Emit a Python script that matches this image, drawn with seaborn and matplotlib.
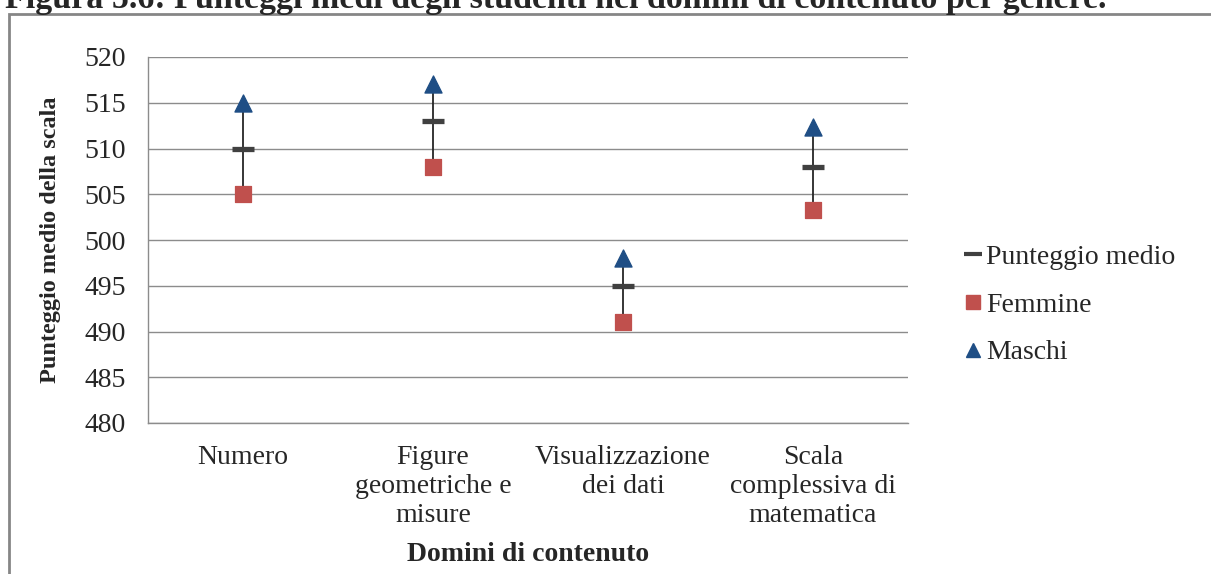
import matplotlib
matplotlib.use("Agg")
import matplotlib.pyplot as plt
from matplotlib.lines import Line2D
from matplotlib.patches import Rectangle
import seaborn as sns
import pandas as pd

# data
domini = ["Numero", "Figure\ngeometriche e\nmisure", "Visualizzazione\ndei dati",
          "Scala\ncomplessiva di\nmatematica"]
medio = [510, 513, 495, 508]
femmine = [505, 508, 491, 503.3]
maschi = [515, 517, 498, 512.3]
y_ticks = [480, 485, 490, 495, 500, 505, 510, 515, 520]

df = pd.DataFrame({"dominio": domini, "medio": medio, "femmine": femmine, "maschi": maschi})

sns.set_style("white")
plt.rcParams["font.family"] = ["Liberation Serif", "DejaVu Serif"]

fig = plt.figure(figsize=(12.11, 5.74), dpi=100)
ax = fig.add_axes([148/1211, 1-423/574, 760/1211, 366/574])

# border of the chart area (cut off right and bottom)
fig.patches.append(Rectangle((9/1211, -0.1), 1.2, 1-14/574+0.1, transform=fig.transFigure,
                             fill=False, edgecolor="#868686", linewidth=2))

# high-low lines
ax.vlines(df["dominio"], df["femmine"], df["maschi"], color="#262626", linewidth=1.3, zorder=2)

sns.scatterplot(data=df, x="dominio", y="medio", marker="_", s=250, linewidth=3.8,
                color="#404040", ax=ax, zorder=3)
sns.scatterplot(data=df, x="dominio", y="femmine", marker="s", s=125, color="#C0504D",
                edgecolor="#C0504D", ax=ax, zorder=3)
sns.scatterplot(data=df, x="dominio", y="maschi", marker="^", s=150, color="#1F4E85",
                edgecolor="#1F4E85", ax=ax, zorder=3)

ax.set_xlim(-0.5, 3.5)
ax.set_ylim(480, 520)
ax.set_yticks(y_ticks)
ax.yaxis.grid(True, color="#8c8c8c", linewidth=1)
ax.set_axisbelow(True)
for s in ["top", "right"]:
    ax.spines[s].set_visible(False)
for s in ["left", "bottom"]:
    ax.spines[s].set_color("#8c8c8c")
    ax.spines[s].set_linewidth(1)

ax.set_xticks([0, 1, 2, 3])
ax.set_xticklabels(domini, fontsize=20, linespacing=1.2)
ax.set_xticks([-0.5, 0.5, 1.5, 2.5, 3.5], minor=True)
ax.tick_params(axis="x", which="major", length=0, pad=16)
ax.tick_params(axis="x", which="minor", length=6, color="#8c8c8c", direction="out")
ax.tick_params(axis="y", length=6, color="#8c8c8c", direction="out", labelsize=20, pad=10)

ax.set_xlabel("Domini di contenuto", fontsize=20, fontweight="bold", labelpad=10)
ax.set_ylabel("Punteggio medio della scala", fontsize=17.5, fontweight="bold", labelpad=17)

handles = [
    Line2D([], [], color="#404040", marker="_", markersize=12.5, markeredgewidth=3, linestyle="none"),
    Line2D([], [], color="#C0504D", marker="s", markersize=10.5, linestyle="none"),
    Line2D([], [], color="#1F4E85", marker="^", markersize=10, linestyle="none"),
]
fig.legend(handles, ["Punteggio medio", "Femmine", "Maschi"], loc="center left",
           bbox_to_anchor=(965/1211, 1-305/574), frameon=False, fontsize=20,
           handlelength=0.6, handletextpad=0.15, labelspacing=0.8,
           borderpad=0, borderaxespad=0)

fig.text(5/1211, 1-8/574, "Figura 5.6: Punteggi medi degli studenti nei domini di contenuto per genere.",
         fontsize=24.5, fontweight="bold", va="baseline", ha="left")

fig.savefig("out.png", dpi=100)
